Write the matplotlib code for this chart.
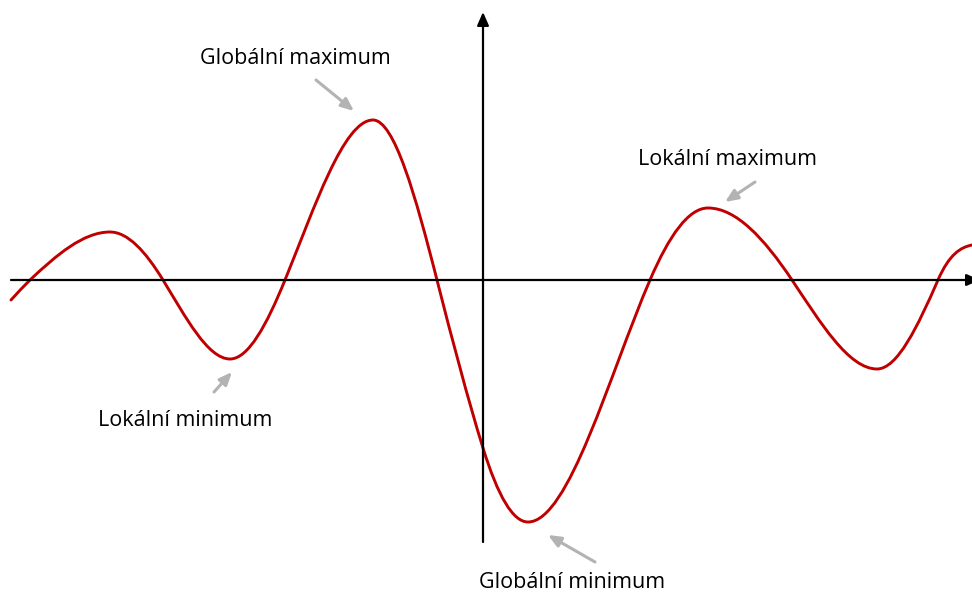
import numpy as np
import matplotlib
matplotlib.use("Agg")
import matplotlib.pyplot as plt
from matplotlib.path import Path
from matplotlib.patches import PathPatch

# body krivky (x, y) -- nuly, extremy a krajni body
knot_x = [-4.72, -4.53, -3.73, -3.20, -2.53, -1.98, -1.10, -0.46, 0.00,
          0.45, 1.67, 2.25, 3.09, 3.94, 4.55, 4.89]
knot_y = [-0.20, 0.00, 0.48, 0.00, -0.79, 0.00, 1.60, 0.00, -1.68,
          -2.42, 0.00, 0.72, 0.00, -0.89, 0.00, 0.35]
# smernice na krajich
smernice_zacatek = 1.05
smernice_konec = 0.2

popisky = ["Globální maximum", "Lokální maximum", "Lokální minimum", "Globální minimum"]
popisky_xy = [(-1.88, 2.21), (2.44, 1.20), (-2.98, -1.41), (0.89, -3.02)]
sipky_od = [(-1.67, 2.00), (2.72, 0.98), (-2.69, -1.12), (1.12, -2.82)]
sipky_do = [(-1.29, 1.69), (2.42, 0.78), (-2.51, -0.92), (0.65, -2.55)]


def smernice(x, y, s0, s1):
    """Smernice v bodech: v extremech nula, jinde podle sinusovky mezi extremy."""
    n = len(x)
    s = np.zeros(n)
    ext = [i for i in range(1, n - 1) if (y[i] - y[i - 1]) * (y[i + 1] - y[i]) < 0]
    for i in range(1, n - 1):
        if i in ext:
            continue
        pred = [j for j in ext if j < i]
        za = [j for j in ext if j > i]
        if pred and za:
            a, b = pred[-1], za[0]
            d = x[b] - x[a]
            s[i] = np.pi / 2 * (y[b] - y[a]) / d * np.sin(np.pi * (x[i] - x[a]) / d)
        elif za:
            b = za[0]
            s[i] = np.pi / 2 * (y[b] - y[i]) / (x[b] - x[i])
        else:
            a = pred[-1]
            s[i] = np.pi / 2 * (y[i] - y[a]) / (x[i] - x[a])
    s[0] = s0
    s[-1] = s1
    return s


x = np.array(knot_x)
y = np.array(knot_y)
s = smernice(x, y, smernice_zacatek, smernice_konec)

# krivka z Bezierovych useku (Hermite)
verts = [(x[0], y[0])]
codes = [Path.MOVETO]
for i in range(len(x) - 1):
    h = x[i + 1] - x[i]
    verts += [(x[i] + h / 3, y[i] + s[i] * h / 3),
              (x[i + 1] - h / 3, y[i + 1] - s[i + 1] * h / 3),
              (x[i + 1], y[i + 1])]
    codes += [Path.CURVE4] * 3

fig = plt.figure(figsize=(9.72, 5.93), dpi=100)
ax = fig.add_axes([0, 0, 1, 1])
ax.set_xlim(-4.83, 4.89)
ax.set_ylim(-3.13, 2.80)
ax.axis("off")

# osy se sipkami
ax.annotate("", xy=(4.97, 0), xytext=(-4.72, 0), annotation_clip=False,
            arrowprops=dict(arrowstyle="-|>,head_length=0.8,head_width=0.35",
                            color="black", lw=1.6, shrinkA=0, shrinkB=0))
ax.annotate("", xy=(0, 2.68), xytext=(0, -2.62),
            arrowprops=dict(arrowstyle="-|>,head_length=0.8,head_width=0.35",
                            color="black", lw=1.6, shrinkA=0, shrinkB=0))

ax.add_patch(PathPatch(Path(verts, codes), facecolor="none",
                       edgecolor="#c00000", lw=2.1, capstyle="round"))

for text, xy, od, do in zip(popisky, popisky_xy, sipky_od, sipky_do):
    ax.text(xy[0], xy[1], text, ha="center", va="center", fontsize=15.5,
            family="Open Sans", color="black")
    ax.annotate("", xy=do, xytext=od,
                arrowprops=dict(arrowstyle="-|>,head_length=0.75,head_width=0.32",
                                color="#b3b3b3", lw=2.2, shrinkA=0, shrinkB=0))

fig.savefig("out.png", dpi=100)
